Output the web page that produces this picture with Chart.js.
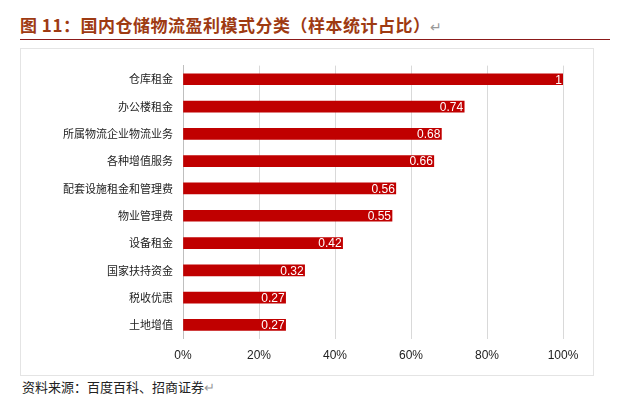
<!DOCTYPE html>
<html><head><meta charset="utf-8">
<script src="https://cdn.jsdelivr.net/npm/chart.js@4"></script>
<style>
body{margin:0;width:632px;height:405px;background:#fff;position:relative;font-family:"Noto Sans CJK SC",sans-serif;overflow:hidden}
#t{position:absolute;left:20px;top:12px;font-size:17px;font-weight:bold;color:#9E3A12;letter-spacing:0.5px}
#t .r{color:#999;font-weight:normal;font-size:14px}
#ln{position:absolute;left:20px;top:39px;width:590px;height:1px;background:#8B1A1A}
#box{position:absolute;left:20px;top:48px;width:572px;height:326px;border:1px solid #e4e4e4}
#f{position:absolute;left:22px;top:377px;font-size:13px;color:#222}
</style></head><body>
<div id="t">图 11：国内仓储物流盈利模式分类（样本统计占比）<span class="r">↵</span></div>
<div id="ln"></div>
<div id="box"><canvas id="c" width="572" height="326"></canvas></div>
<div id="f">资料来源：百度百科、招商证券<span style="color:#999">↵</span></div>
<script>
const categories=["仓库租金","办公楼租金","所属物流企业物流业务","各种增值服务","配套设施租金和管理费","物业管理费","设备租金","国家扶持资金","税收优惠","土地增值"];
const values=[1,0.74,0.68,0.66,0.56,0.55,0.42,0.32,0.27,0.27];
const labels=["1","0.74","0.68","0.66","0.56","0.55","0.42","0.32","0.27","0.27"];
const valPlugin={id:'v',afterDatasetsDraw(ch){const c=ch.ctx;const m=ch.getDatasetMeta(0);c.save();c.fillStyle='#fff';c.font='12px "Liberation Sans",Arial';c.textAlign='right';c.textBaseline='middle';m.data.forEach((b,i)=>{c.fillText(labels[i],b.x-1,b.y+1);});c.restore();}};
new Chart(document.getElementById('c'),{type:'bar',data:{labels:categories,datasets:[{data:values,backgroundColor:'#C00000',barThickness:11}]},
options:{indexAxis:'y',responsive:false,animation:false,devicePixelRatio:1,
layout:{padding:{top:0,right:30,bottom:2,left:0}},
plugins:{legend:{display:false},tooltip:{enabled:false}},
scales:{x:{min:0,max:1,ticks:{stepSize:0.2,callback:v=>Math.round(v*100)+'%',color:'#222',font:{size:12,family:'"Liberation Sans",Arial'},padding:10},grid:{color:'#d9d9d9',drawTicks:false},border:{display:false}},
y:{afterFit:s=>{s.width=162},ticks:{color:'#222',font:{size:11,family:'"Noto Sans CJK SC"'},padding:10},grid:{display:false,drawTicks:false},border:{color:'#bfbfbf'}}}},
plugins:[valPlugin]});
</script></body></html>
